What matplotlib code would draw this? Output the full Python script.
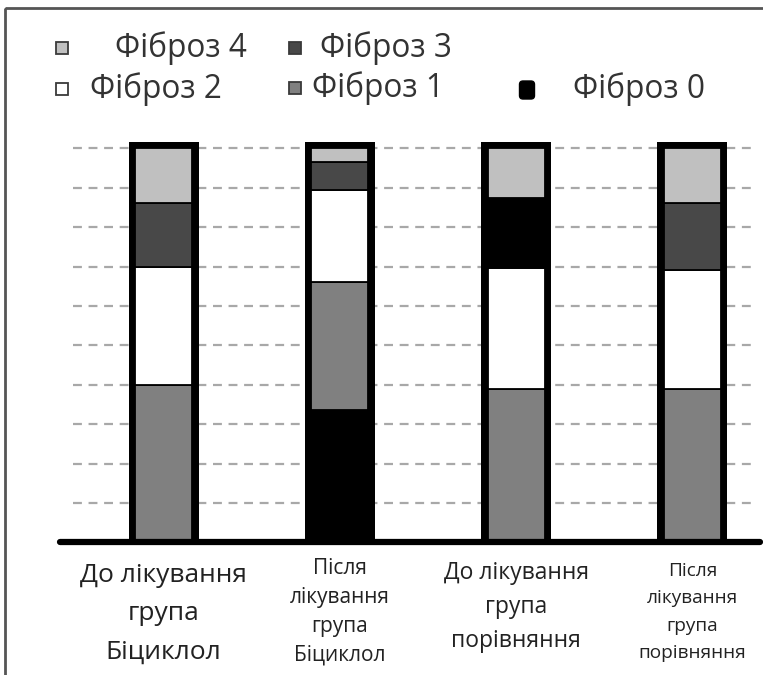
import matplotlib
matplotlib.use("Agg")
import matplotlib.pyplot as plt
from matplotlib.patches import Rectangle, FancyBboxPatch

plt.rcParams['font.family'] = ['Open Sans', 'DejaVu Sans']

# ---------------- data ----------------
groups = ["До лікування\nгрупа\nБіциклол",
          "Після\nлікування\nгрупа\nБіциклол",
          "До лікування\nгрупа\nпорівняння",
          "Після\nлікування\nгрупа\nпорівняння"]
categories = ["Фіброз 0", "Фіброз 1", "Фіброз 2", "Фіброз 3", "Фіброз 4"]
# stacking order (bottom -> top) of categories inside every bar, and the values (%)
stack_order = [[1, 2, 3, 4], [0, 1, 2, 3, 4], [1, 2, 0, 4], [1, 2, 3, 4]]
stack_values = [[40, 30, 16, 14],
                [33.5, 32.5, 23.5, 7, 3.5],
                [39, 30.5, 18, 12.5],
                [39, 30, 17, 14]]
grid_levels = [10, 20, 30, 40, 50, 60, 70, 80, 90, 100]

# ---------------- style ----------------
cat_colors = ["#000000", "#808080", "#ffffff", "#484848", "#c0c0c0"]
W, H = 763, 675
fig = plt.figure(figsize=(W / 100, H / 100), dpi=100)

ax_left, ax_right = 73, 755
y0_px, ytop_px = 542.3, 140
ax = fig.add_axes([ax_left / W, (H - y0_px) / H, (ax_right - ax_left) / W, (y0_px - ytop_px) / H])
spacing = 176.3
first_c = 163.5
ax.set_xlim((ax_left - first_c) / spacing, (ax_right - first_c) / spacing)
px_per_unit = (y0_px - 148.3) / 100
ax.set_ylim(0, (y0_px - ytop_px) / px_per_unit)
ax.set_axis_off()

for g in grid_levels:
    ax.axhline(g, color="#a8a8a8", lw=1.6, linestyle=(0, (4, 3)), zorder=1)

outer_w = 70 / spacing
inner_w = 57 / spacing
for i, (order, vals) in enumerate(zip(stack_order, stack_values)):
    total = sum(vals)
    ax.bar(i, total + 1.6, width=outer_w, color="black", zorder=2)
    bottom = 0
    for c, v in zip(order, vals):
        ax.bar(i, v, width=inner_w, bottom=bottom, color=cat_colors[c],
               edgecolor="black", linewidth=1.3, zorder=3)
        bottom += v

# baseline
ax.axhline(0, xmin=(60 - ax_left) / (ax_right - ax_left), xmax=(760 - ax_left) / (ax_right - ax_left),
           color="black", lw=4.5, solid_capstyle="round", clip_on=False, zorder=5)

# category labels
lab_sizes = [19, 15, 16.5, 13.7]
lab_centers = [614, 612, 607, 612]
lab_spacing = [1.69, 1.5, 1.57, 1.68]
ax_h = y0_px - ytop_px
for i, (txt, fs, cy, ls) in enumerate(zip(groups, lab_sizes, lab_centers, lab_spacing)):
    ax.text(i, -(cy - y0_px) / ax_h, txt, transform=ax.get_xaxis_transform(),
            ha="center", va="center", fontsize=fs, linespacing=ls,
            color="#222222", multialignment="center")

# ---------------- overlay (legend + frame) ----------------
ov = fig.add_axes([0, 0, 1, 1])
ov.set_xlim(0, W)
ov.set_ylim(H, 0)
ov.set_axis_off()
ov.patch.set_alpha(0)

ov.add_patch(Rectangle((5, 8), W + 20, H + 20, fill=False, edgecolor="#555555", lw=2, clip_on=False))

leg_fs = 22.8
leg_items = [  # (category index, marker x, row y, text x)
    (4, 62, 48, 115),
    (3, 295, 48, 320),
    (2, 62, 89, 90),
    (1, 295, 88, 312),
]
for c, mx, my, tx in leg_items:
    s = 12
    ov.add_patch(Rectangle((mx - s / 2, my - s / 2), s, s, facecolor=cat_colors[c],
                           edgecolor="#3a3a3a", lw=1.3))
    ov.text(tx, my, categories[c], fontsize=leg_fs, va="center", ha="left", color="#333333")
# Фіброз 0 marker (rounded)
ov.add_patch(FancyBboxPatch((527 - 7.5, 90 - 9), 15, 18, boxstyle="round,pad=0,rounding_size=3.5",
                            facecolor="black", edgecolor="black", lw=1))
ov.text(573, 89, categories[0], fontsize=leg_fs, va="center", ha="left", color="#333333")

fig.savefig("out.png", dpi=100)
